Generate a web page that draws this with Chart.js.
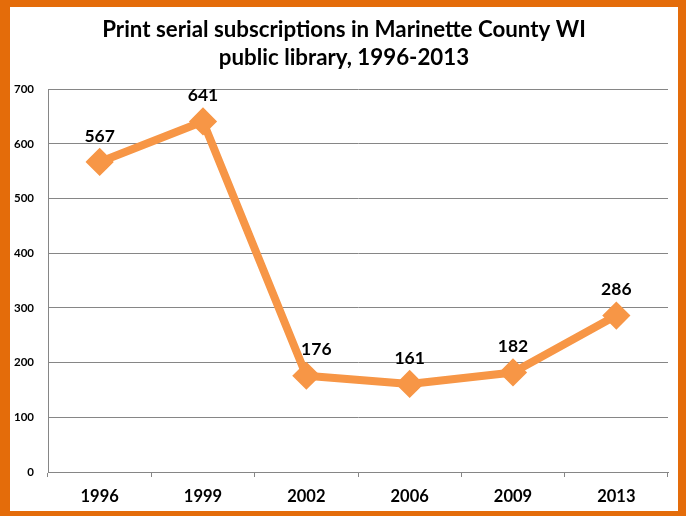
<!DOCTYPE html>
<html>
<head>
<meta charset="utf-8">
<script src="https://cdn.jsdelivr.net/npm/chart.js@4/dist/chart.umd.min.js"></script>
<style>
  html, body { margin: 0; padding: 0; background: #fff; }
  #frame {
    position: absolute; left: 0; top: 0;
    width: 668px; height: 504px;
    border-style: solid; border-color: #E46C0A;
    border-width: 7px 8px 5px 10px;
    background: #fff;
  }
  canvas { display: block; }
</style>
</head>
<body>
<div id="frame"><canvas id="serials" width="668" height="504"></canvas></div>
<script>
var years = ['1996', '1999', '2002', '2006', '2009', '2013'];
var subscriptions = [567, 641, 176, 161, 182, 286];
var yTicks = [0, 100, 200, 300, 400, 500, 600, 700];
var titleLines = ['Print serial subscriptions in Marinette County WI', 'public library, 1996-2013'];

var lineColor = '#F79646';
var gridColor = '#868686';
var fontFamily = 'Lato, "Open Sans", sans-serif';

// labels above the points, 2002 one nudged right off the line like the original
var valueLabels = {
    id: 'valueLabels',
    afterDatasetsDraw: function(chart, args, opts) {
        var ctx = chart.ctx;
        var meta = chart.getDatasetMeta(0);
        ctx.save();
        ctx.font = 'bold 17.5px ' + fontFamily;
        ctx.fillStyle = '#000';
        ctx.textAlign = 'center';
        ctx.textBaseline = 'middle';
        meta.data.forEach(function(pt, i) {
            var dx = opts.shift[i] || 0;
            ctx.fillText(chart.data.datasets[0].data[i], pt.x + dx, pt.y - 26);
        });
        ctx.restore();
    }
};

var context = document.getElementById('serials').getContext('2d');
var chart = new Chart(context, {
    type: 'line',
    data: {
        labels: years,
        datasets: [{
            data: subscriptions,
            borderColor: lineColor,
            backgroundColor: lineColor,
            borderWidth: 8,
            borderJoinStyle: 'round',
            tension: 0,
            pointStyle: 'rectRot',
            pointRadius: 12,
            pointBorderWidth: 3,
            pointBackgroundColor: lineColor,
            pointBorderColor: lineColor
        }]
    },
    plugins: [valueLabels],
    options: {
        responsive: false,
        animation: false,
        layout: { autoPadding: false, padding: 0 },
        plugins: {
            legend: { display: false },
            tooltip: { enabled: false },
            title: {
                display: true,
                text: titleLines,
                color: '#000',
                font: { family: fontFamily, size: 22.3, weight: 'bold', lineHeight: 1.26 },
                padding: { top: 9, bottom: 17 }
            },
            valueLabels: { shift: [0, 0, 10, 0, 0, 0] }
        },
        scales: {
            x: {
                offset: true,
                grid: {
                    offset: true,
                    drawOnChartArea: false,
                    drawTicks: true,
                    tickLength: 5,
                    color: gridColor
                },
                border: { color: gridColor, width: 1 },
                ticks: {
                    color: '#000',
                    padding: 10,
                    font: { family: fontFamily, size: 16.5, weight: 'bold' }
                },
                afterFit: function(s) { s.height = 39; }
            },
            y: {
                min: yTicks[0],
                max: yTicks[yTicks.length - 1],
                afterBuildTicks: function(s) {
                    s.ticks = yTicks.map(function(v) { return { value: v }; });
                },
                grid: { color: gridColor, drawTicks: false },
                border: { color: gridColor, width: 1 },
                ticks: {
                    color: '#000',
                    padding: 14,
                    font: { family: fontFamily, size: 11.5, weight: 'bold' }
                },
                afterFit: function(s) { s.width = 38; }
            },
            // empty right-hand axis, only keeps a margin so the title stays centred on the frame
            yRight: {
                position: 'right',
                min: yTicks[0],
                max: yTicks[yTicks.length - 1],
                grid: { display: false },
                border: { display: false },
                ticks: { display: false },
                afterFit: function(s) { s.width = 10; }
            }
        }
    }
});
</script>
</body>
</html>
